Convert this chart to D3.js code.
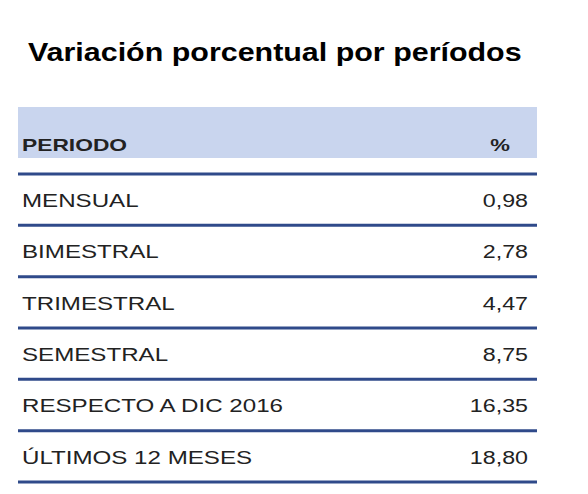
<!DOCTYPE html>
<html><head><meta charset="utf-8">
<script src="https://cdn.jsdelivr.net/npm/d3@7"></script>
<style>body{margin:0;background:#fff;font-family:"Liberation Sans",Arial,sans-serif}</style>
</head><body>
<svg id="chart" width="588" height="494"></svg>
<script>
var periods = ['MENSUAL','BIMESTRAL','TRIMESTRAL','SEMESTRAL','RESPECTO A DIC 2016','ÚLTIMOS 12 MESES'];
var values = ['0,98','2,78','4,47','8,75','16,35','18,80'];

var svg = d3.select('#chart');
var left = 18, right = 537;

// the reference text looks horizontally stretched
function stretch(sel, f) {
  sel.each(function() {
    var w = this.getComputedTextLength();
    d3.select(this).attr('textLength', w * f).attr('lengthAdjust', 'spacingAndGlyphs');
  });
}

svg.append('text').attr('x', 28).attr('y', 61)
  .attr('font-size', 26).attr('font-weight', 'bold').attr('fill', '#000')
  .text('Variación porcentual por períodos').call(stretch, 1.17);

// header band
svg.append('rect').attr('x', left).attr('y', 107).attr('width', right - left).attr('height', 51)
  .attr('fill', '#c9d5ee');
svg.append('text').attr('x', 22).attr('y', 151).attr('font-size', 17).attr('font-weight', 'bold')
  .attr('fill', '#222').text('PERIODO').call(stretch, 1.34);
svg.append('text').attr('x', 510).attr('y', 151).attr('font-size', 17).attr('font-weight', 'bold')
  .attr('text-anchor', 'end').attr('fill', '#222').text('%').call(stretch, 1.3);

var y = d3.scaleBand().domain(d3.range(periods.length)).range([174, 482]);

var rows = svg.selectAll('g.row').data(periods).enter().append('g').attr('class', 'row')
  .attr('transform', function(d, i) { return 'translate(0,' + y(i) + ')'; });

rows.append('line').attr('x1', left).attr('x2', right).attr('y1', 0).attr('y2', 0)
  .attr('stroke', '#2f4a8a').attr('stroke-width', 3);
rows.append('text').attr('x', 22).attr('y', 33).attr('font-size', 18).attr('fill', '#222')
  .text(function(d) { return d; }).call(stretch, 1.34);
rows.append('text').attr('x', 528).attr('y', 33).attr('font-size', 18).attr('fill', '#222')
  .attr('text-anchor', 'end').text(function(d, i) { return values[i]; }).call(stretch, 1.29);

svg.append('line').attr('x1', left).attr('x2', right).attr('y1', 482).attr('y2', 482)
  .attr('stroke', '#2f4a8a').attr('stroke-width', 3);
</script>
</body></html>
